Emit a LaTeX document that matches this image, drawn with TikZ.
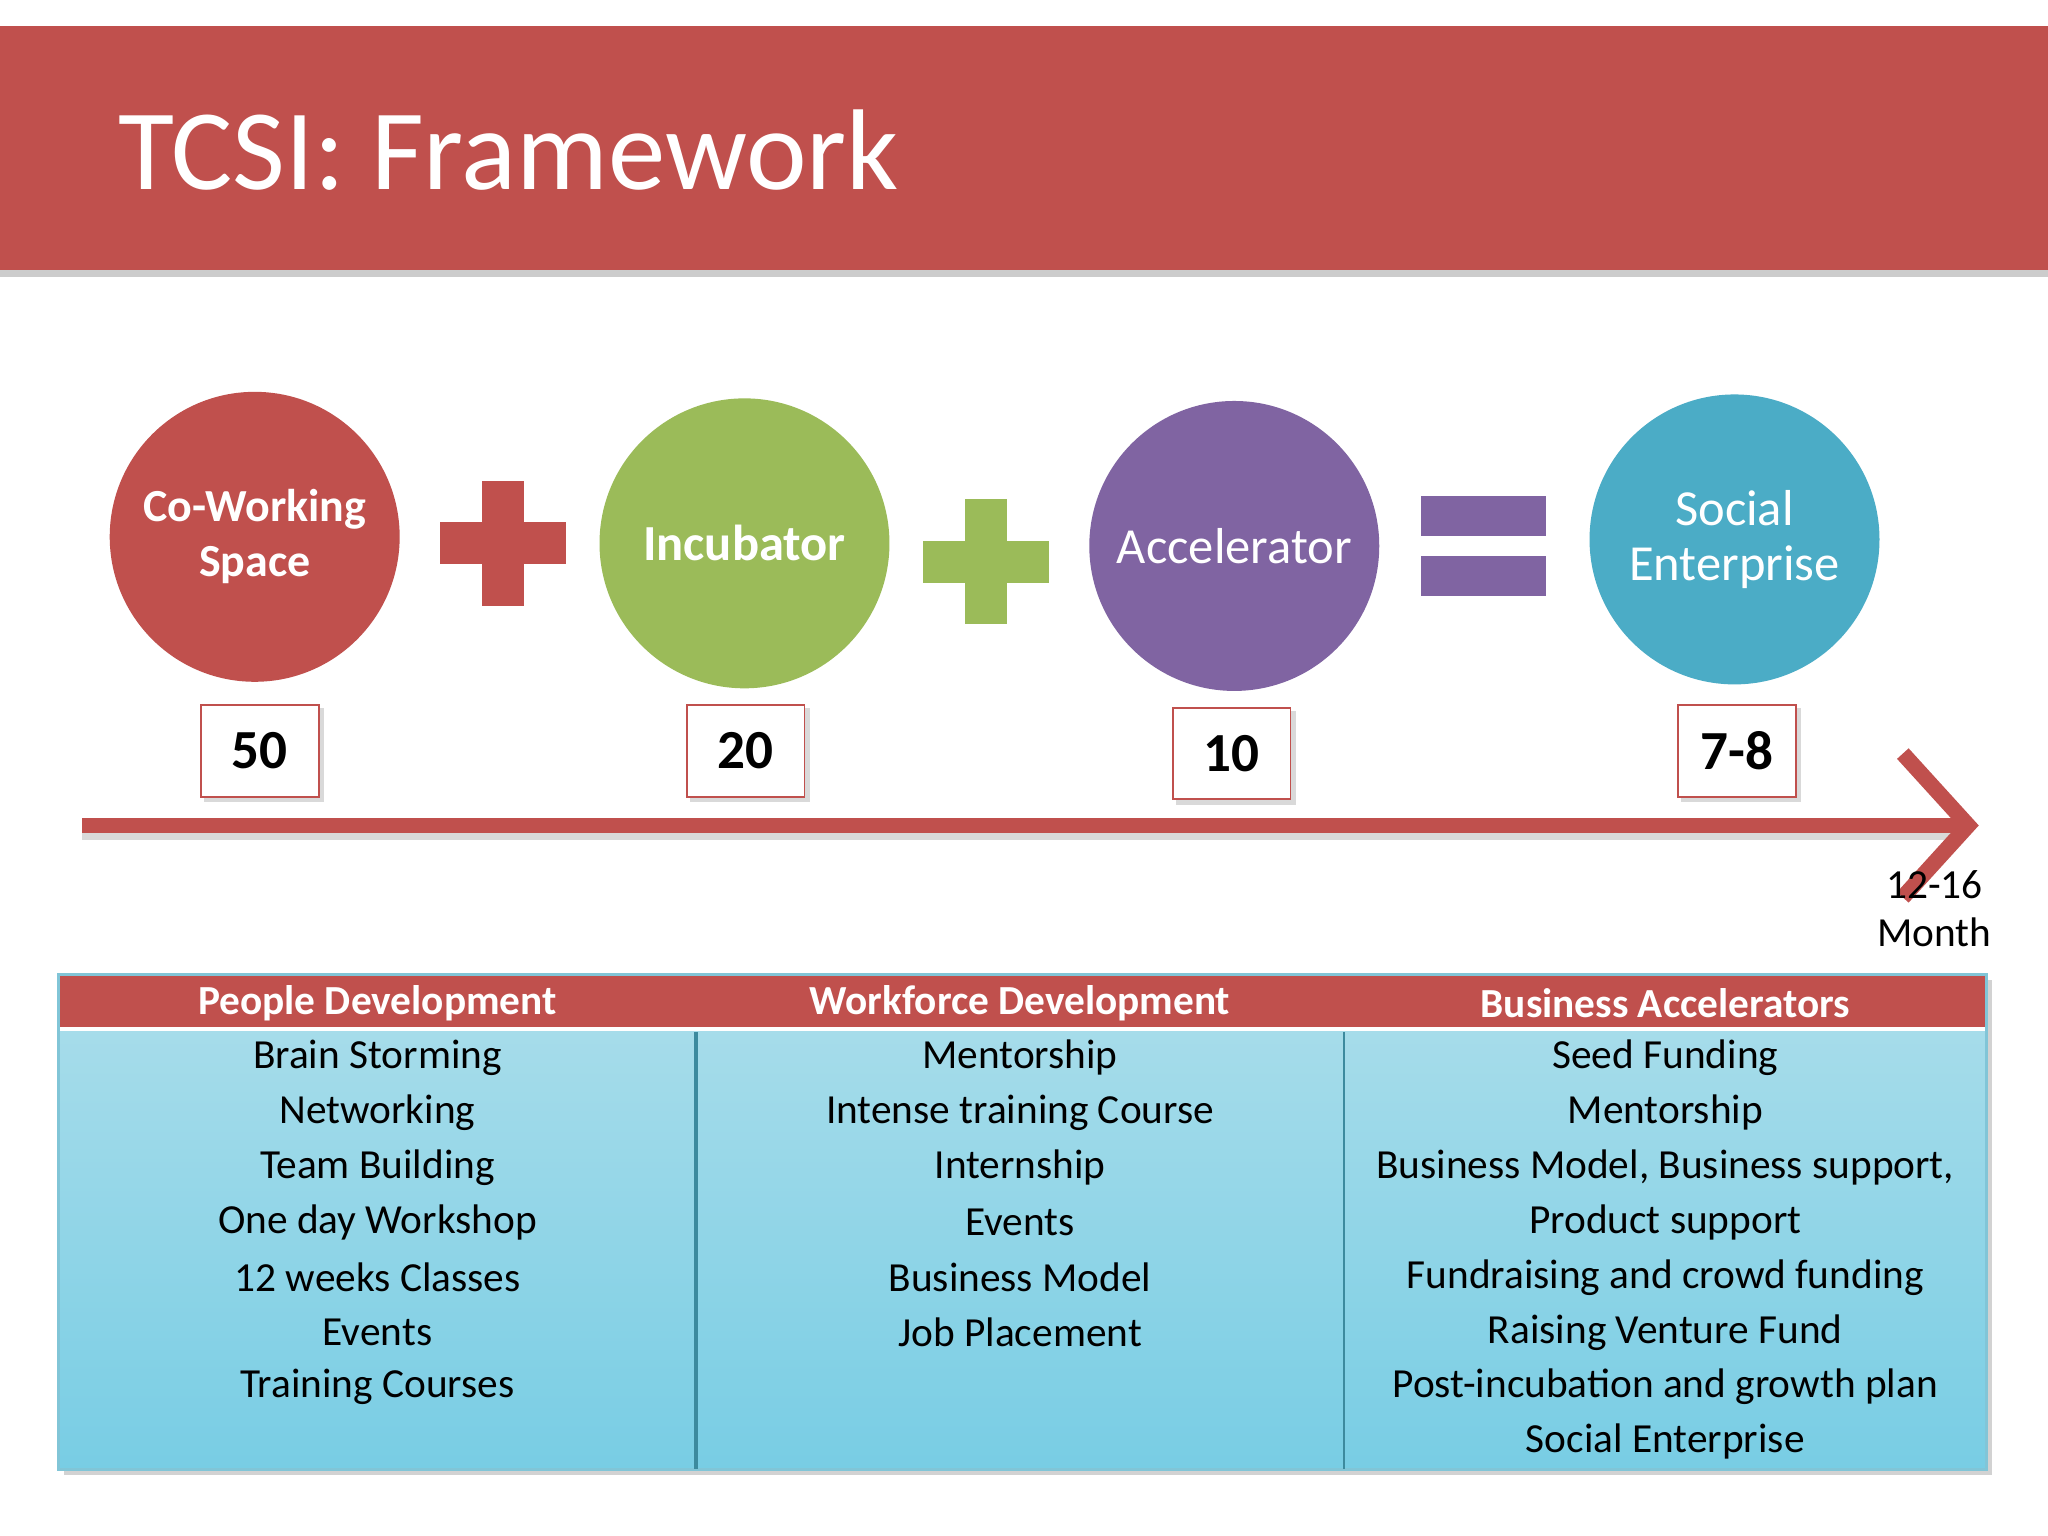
\documentclass[tikz,border=0pt]{standalone}
\usepackage{fontspec}
\setmainfont{Carlito}
\usetikzlibrary{arrows.meta}
\definecolor{hred}{HTML}{C0504D}
\definecolor{hgreen}{HTML}{9BBB59}
\definecolor{hpurple}{HTML}{8064A2}
\definecolor{hblue}{HTML}{4BACC6}
\definecolor{tblue1}{HTML}{A6DCEA}
\definecolor{tblue2}{HTML}{78CDE4}
\begin{document}
\begin{tikzpicture}[x=0.01cm,y=-0.01cm,
  circ/.style={circle,minimum size=222*0.01cm,inner sep=0,text=white,align=center,font=\fontsize{10}{11}\selectfont},
  num/.style={draw=hred,fill=white,minimum width=90*0.01cm,minimum height=70*0.01cm,font=\fontsize{12}{13}\selectfont\bfseries},
  cell/.style={font=\fontsize{9}{10}\selectfont,anchor=center},
  hd/.style={font=\fontsize{9}{10}\selectfont\bfseries,text=white}]
\useasboundingbox (0,0) rectangle (1568,1176);
\fill[white] (0,0) rectangle (1568,1176);
% header
\fill[gray!40] (0,24) rectangle (1568,212);
\fill[hred] (0,20) rectangle (1568,207);
\node[anchor=west,text=white,font=\fontsize{25}{28}\selectfont] (title) at (78,115) {TCSI: Framework};
% circles
\node[circ,fill=hred,font=\fontsize{10}{12}\selectfont\bfseries] (cw) at (195,411) {Co-Working\\Space};
\node[circ,fill=hgreen,font=\fontsize{11}{12}\selectfont\bfseries] (inc) at (570,416) {Incubator};
\node[circ,fill=hpurple,font=\fontsize{11}{12}\selectfont] (acc) at (945,418) {Accelerator};
\node[circ,fill=hblue,font=\fontsize{11}{12}\selectfont] (se) at (1328,413) {Social\\Enterprise};
% operators
\fill[hred] (337,400) rectangle (433,432);
\fill[hred] (369,368) rectangle (401,464);
\fill[hgreen] (707,414) rectangle (803,446);
\fill[hgreen] (739,382) rectangle (771,478);
\fill[hpurple] (1088,380) rectangle (1184,410);
\fill[hpurple] (1088,426) rectangle (1184,456);
% numbers
\foreach \n/\x/\y/\t in {n1/199/575/50,n2/571/575/20,n3/943/577/10,n4/1330/575/7-8}{
  \fill[gray!30] (\x-43,\y-33) rectangle (\x+49,\y+39);
  \node[num] (\n) at (\x,\y) {\t};
}
% timeline arrow
\coordinate (ts) at (63,632);
\coordinate (te) at (1515,632);
\draw[gray!30,line width=12*0.01cm] (63,637) -- (1505,637);
\draw[hred,line width=12*0.01cm,-{Straight Barb[length=0.5cm,width=1.1cm,line width=12*0.01cm]}] (ts) -- (te);
\node[align=center,font=\fontsize{9}{10.5}\selectfont] (mo) at (1481,696) {12-16\\Month};
% table
\fill[gray!35] (49,750) rectangle (1525,1129);
\shade[top color=tblue1,bottom color=tblue2] (45,788) rectangle (1521,1125);
\fill[hred] (45,746) rectangle (1521,786);
\draw[white,line width=3*0.01cm] (45,788) -- (1521,788);
\draw[hblue!70!white,line width=2*0.01cm] (45,746) rectangle (1521,1125);
\draw[hblue!80!black,line width=3*0.01cm] (533,790) -- (533,1125);
\draw[hblue!80!black,line width=1*0.01cm] (1029,790) -- (1029,1125);
\node[hd] (h1) at (289,768) {People Development};
\node[hd] (h2) at (781,768) {Workforce Development};
\node[hd] (h3) at (1275,768) {Business Accelerators};
\foreach \t [count=\i from 0] in {Brain Storming,Networking,Team Building,One day Workshop,12 weeks Classes,Events,Training Courses}
  \node[cell] (a\i) at (289,810+42*\i) {\t};
\foreach \t [count=\i from 0] in {Mentorship,Intense training Course,Internship,Events,Business Model,Job Placement}
  \node[cell] (b\i) at (781,810+42*\i) {\t};
\foreach \t [count=\i from 0] in {Seed Funding,Mentorship,{Business Model, Business support,},Product support,Fundraising and crowd funding,Raising Venture Fund,Post-incubation and growth plan,Social Enterprise}
  \node[cell] (c\i) at (1275,810+42*\i) {\t};
\end{tikzpicture}
\end{document}
